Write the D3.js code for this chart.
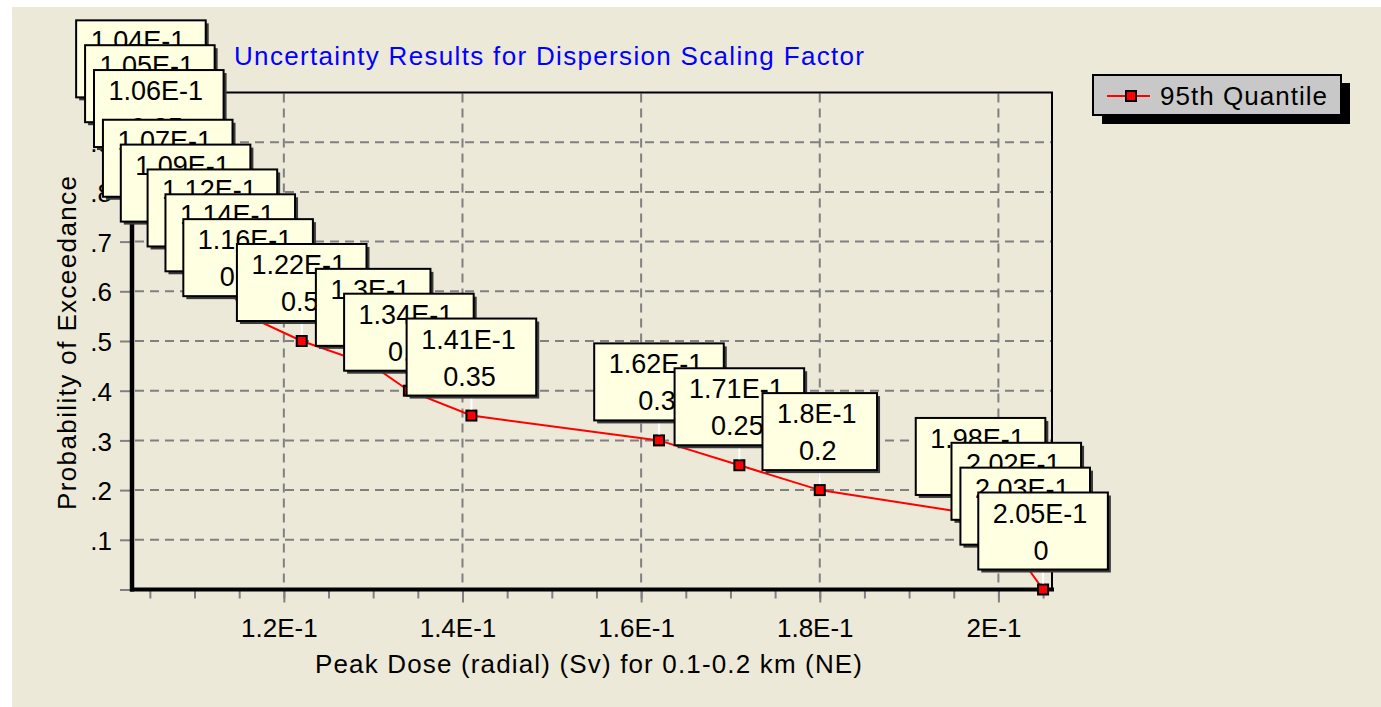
<!DOCTYPE html>
<html>
<head>
<meta charset="utf-8">
<script src="https://cdn.jsdelivr.net/npm/d3@7"></script>
<style>
  body { margin: 0; background: #fff; }
  svg { display: block; }
  text { font-family: "Liberation Sans", Arial, sans-serif; }
</style>
</head>
<body>
<div id="chart"></div>
<script>
var w = 1381;
var h = 707;

// 95th quantile curve: dose (Sv) vs probability of exceedance
var doses = [0.104, 0.105, 0.106, 0.107, 0.109, 0.112, 0.114, 0.116, 0.122, 0.130,
             0.134, 0.141, 0.162, 0.171, 0.180, 0.198, 0.202, 0.203, 0.205];
var probs = [0.95, 0.9, 0.85, 0.75, 0.7, 0.65, 0.6, 0.55, 0.5, 0.45,
             0.4, 0.35, 0.3, 0.25, 0.2, 0.15, 0.1, 0.05, 0];

var xMajor = [0.12, 0.14, 0.16, 0.18, 0.2];
var xMinor = [0.105, 0.11, 0.115, 0.12, 0.125, 0.13, 0.135, 0.14, 0.145, 0.15, 0.155,
              0.16, 0.165, 0.17, 0.175, 0.18, 0.185, 0.19, 0.195, 0.2, 0.205];
var yTicks = [0, 0.1, 0.2, 0.3, 0.4, 0.5, 0.6, 0.7, 0.8, 0.9, 1];

var points = doses.map(function(d, i) { return { dose: d, prob: probs[i] }; });

var svg = d3.select('#chart')
  .append('svg')
    .attr('width', w)
    .attr('height', h);

svg.append('rect').attr('width', w).attr('height', h).attr('fill', '#fff');
svg.append('rect') // window face
  .attr('x', 12).attr('y', 7)
  .attr('width', w - 12).attr('height', h - 7)
  .attr('fill', '#ece9d8');

var x = d3.scaleLinear().domain([0.103, 0.206]).range([132, 1052]);
var y = d3.scaleLinear().domain([0, 1]).range([589.5, 92.5]);

// dashed grid
var grid = svg.append('g').attr('id', 'grid')
  .attr('stroke', '#808080')
  .attr('stroke-width', 2)
  .attr('stroke-dasharray', '9,6');
grid.selectAll('.hgrid')
  .data(yTicks.filter(function(d) { return d > 0 && d < 1; }))
  .enter()
  .append('line')
    .attr('x1', 135).attr('x2', 1051)
    .attr('y1', function(d) { return y(d); })
    .attr('y2', function(d) { return y(d); });
grid.selectAll('.vgrid')
  .data(xMajor)
  .enter()
  .append('line')
    .attr('x1', function(d) { return x(d); })
    .attr('x2', function(d) { return x(d); })
    .attr('y1', y(1) + 1).attr('y2', y(0));

// y axis
var yAxis = svg.append('g')
  .attr('transform', 'translate(132,0)')
  .call(d3.axisLeft(y)
    .tickValues(yTicks)
    .tickSize(12)
    .tickPadding(8)
    .tickFormat(function(d) {
      if (d == 0) return '';
      if (d == 1) return '1';
      return '.' + Math.round(d * 10);
    }));
yAxis.select('.domain').remove();
yAxis.selectAll('.tick line').attr('stroke', '#808080').attr('stroke-width', 2);
yAxis.selectAll('.tick text')
  .attr('fill', '#000')
  .attr('font-size', 26)
  .attr('font-family', '"Liberation Sans", Arial, sans-serif')
  .attr('dy', '0.37em');

// x axis, minor ticks then major ticks with labels
var xMinorAxis = svg.append('g')
  .attr('transform', 'translate(0,589.5)')
  .call(d3.axisBottom(x).tickValues(xMinor).tickSize(9).tickFormat(''));
xMinorAxis.select('.domain').remove();
xMinorAxis.selectAll('.tick line').attr('stroke', '#808080').attr('stroke-width', 2);

var xAxis = svg.append('g')
  .attr('transform', 'translate(0,589.5)')
  .call(d3.axisBottom(x)
    .tickValues(xMajor)
    .tickSize(13)
    .tickFormat(function(d) { return (+(d * 10).toFixed(1)) + 'E-1'; }));
xAxis.select('.domain').remove();
xAxis.selectAll('.tick line').attr('stroke', '#808080').attr('stroke-width', 2);
xAxis.selectAll('.tick text')
  .attr('fill', '#000')
  .attr('font-size', 26)
  .attr('font-family', '"Liberation Sans", Arial, sans-serif')
  .attr('x', -5)
  .attr('y', 47.5)
  .attr('dy', 0);

// plot frame
var frame = svg.append('g').attr('stroke', '#000');
frame.append('line').attr('x1', 132).attr('x2', 1053).attr('y1', y(1)).attr('y2', y(1)).attr('stroke-width', 2);
frame.append('line').attr('x1', 1052).attr('x2', 1052).attr('y1', y(1)).attr('y2', y(0)).attr('stroke-width', 2);
frame.append('line').attr('x1', 132).attr('x2', 132).attr('y1', y(1) - 1).attr('y2', y(0) + 2).attr('stroke-width', 4.5);
frame.append('line').attr('x1', 130).attr('x2', 1054).attr('y1', y(0)).attr('y2', y(0)).attr('stroke-width', 4);

// the quantile line
var line = d3.line()
  .x(function(d) { return x(d.dose); })
  .y(function(d) { return y(d.prob); });
svg.append('path')
  .datum(points)
  .attr('d', line)
  .attr('fill', 'none')
  .attr('stroke', '#ff0000')
  .attr('stroke-width', 2);

svg.selectAll('.marker')
  .data(points)
  .enter()
  .append('rect')
    .attr('class', 'marker')
    .attr('x', function(d) { return x(d.dose) - 5; })
    .attr('y', function(d) { return y(d.prob) - 5; })
    .attr('width', 10)
    .attr('height', 10)
    .attr('fill', '#ff0000')
    .attr('stroke', '#000')
    .attr('stroke-width', 2);

// data labels, each one drawn over the previous
var boxH = 77;
points.forEach(function(d) {
  var cx = x(d.dose);
  var top = y(d.prob) - 97;
  var g = svg.append('g').attr('class', 'label');
  g.append('line')
    .attr('x1', cx).attr('x2', cx)
    .attr('y1', top + boxH).attr('y2', y(d.prob) - 6)
    .attr('stroke', '#fff')
    .attr('stroke-width', 2);
  var shadow = g.append('rect').attr('fill', '#3a3a3a');
  var box = g.append('rect').attr('fill', '#ffffe1').attr('stroke', '#000').attr('stroke-width', 2);
  var t1 = g.append('text')
    .attr('x', cx - 3).attr('y', top + 30)
    .attr('text-anchor', 'middle')
    .attr('font-size', 27)
    .attr('fill', '#000')
    .text((+(d.dose * 10).toFixed(2)) + 'E-1');
  g.append('text')
    .attr('x', cx - 2).attr('y', top + 67)
    .attr('text-anchor', 'middle')
    .attr('font-size', 27)
    .attr('fill', '#000')
    .text(String(d.prob));
  var bw = t1.node().getComputedTextLength() + 35;
  shadow.attr('x', cx - bw / 2 + 3).attr('y', top + 3).attr('width', bw).attr('height', boxH);
  box.attr('x', cx - bw / 2).attr('y', top).attr('width', bw).attr('height', boxH);
});

// titles
svg.append('text')
  .attr('x', 234).attr('y', 65)
  .attr('font-size', 26)
  .attr('fill', '#0000ff')
  .attr('textLength', 630)
  .text('Uncertainty Results for Dispersion Scaling Factor');

svg.append('text')
  .attr('x', 315).attr('y', 673)
  .attr('font-size', 26)
  .attr('fill', '#000')
  .attr('textLength', 547)
  .text('Peak Dose (radial) (Sv) for 0.1-0.2 km (NE)');

svg.append('text')
  .attr('transform', 'translate(76,510) rotate(-90)')
  .attr('font-size', 26)
  .attr('fill', '#000')
  .attr('textLength', 334)
  .text('Probability of Exceedance');

// legend
var legend = svg.append('g').attr('id', 'legend');
legend.append('rect').attr('x', 1102).attr('y', 83).attr('width', 248).attr('height', 41).attr('fill', '#000');
legend.append('rect').attr('x', 1093).attr('y', 75).attr('width', 248).attr('height', 40)
  .attr('fill', '#c8c8c8').attr('stroke', '#000').attr('stroke-width', 2);
legend.append('line').attr('x1', 1107).attr('x2', 1150).attr('y1', 96).attr('y2', 96)
  .attr('stroke', '#ff0000').attr('stroke-width', 2);
legend.append('rect').attr('x', 1126).attr('y', 91).attr('width', 10).attr('height', 10)
  .attr('fill', '#ff0000').attr('stroke', '#000').attr('stroke-width', 2);
legend.append('text')
  .attr('x', 1160).attr('y', 105)
  .attr('font-size', 26)
  .attr('fill', '#000')
  .attr('textLength', 167)
  .text('95th Quantile');
</script>
</body>
</html>
